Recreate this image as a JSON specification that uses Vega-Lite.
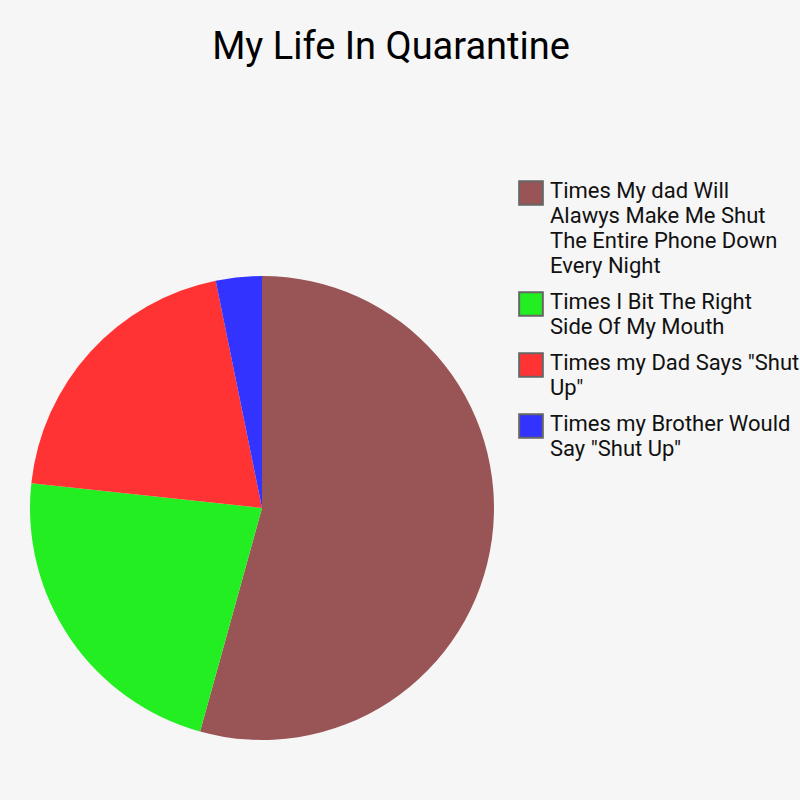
{
  "$schema": "https://vega.github.io/schema/vega-lite/v6.json",
  "autosize": {"type": "none"},
  "width": 524,
  "height": 464,
  "padding": {"left": 0, "top": 276, "right": 276, "bottom": 60},
  "background": "#f6f6f6",
  "title": {
    "text": "My Life In Quarantine",
    "anchor": "middle",
    "dx": 129,
    "offset": 113,
    "fontSize": 38,
    "font": "Roboto",
    "fontWeight": "normal",
    "color": "#000000"
  },
  "data": {
    "values": [
      {"label": "Times My dad Will|Alawys Make Me Shut|The Entire Phone Down|Every Night", "count": 54.3, "rank": 1},
      {"label": "Times I Bit The Right|Side Of My Mouth", "count": 22.4, "rank": 2},
      {"label": "Times my Dad Says \"Shut|Up\"", "count": 20.1, "rank": 3},
      {"label": "Times my Brother Would|Say \"Shut Up\"", "count": 3.2, "rank": 4}
    ]
  },
  "mark": {"type": "arc", "stroke": null},
  "encoding": {
    "theta": {"field": "count", "type": "quantitative", "stack": true},
    "order": {"field": "rank", "type": "quantitative"},
    "color": {
      "field": "label",
      "type": "nominal",
      "sort": {"field": "rank"},
      "scale": {"range": ["#995555", "#22ee22", "#ff3333", "#3333ff"]},
      "legend": {
        "title": null,
        "orient": "none",
        "legendX": 518,
        "legendY": -96,
        "symbolType": "square",
        "symbolSize": 560,
        "symbolStrokeColor": "#666666",
        "symbolStrokeWidth": 2,
        "symbolOpacity": 1,
        "labelFont": "Roboto",
        "labelFontSize": 22,
        "labelColor": "#111111",
        "labelOffset": 6,
        "labelLimit": 300,
        "labelBaseline": "top",
        "rowPadding": 11,
        "labelExpr": "split(datum.label, '|')",
        "encode": {"labels": {"update": {"lineHeight": {"value": 25}, "dy": {"value": -12}}}}
      }
    }
  }
}
